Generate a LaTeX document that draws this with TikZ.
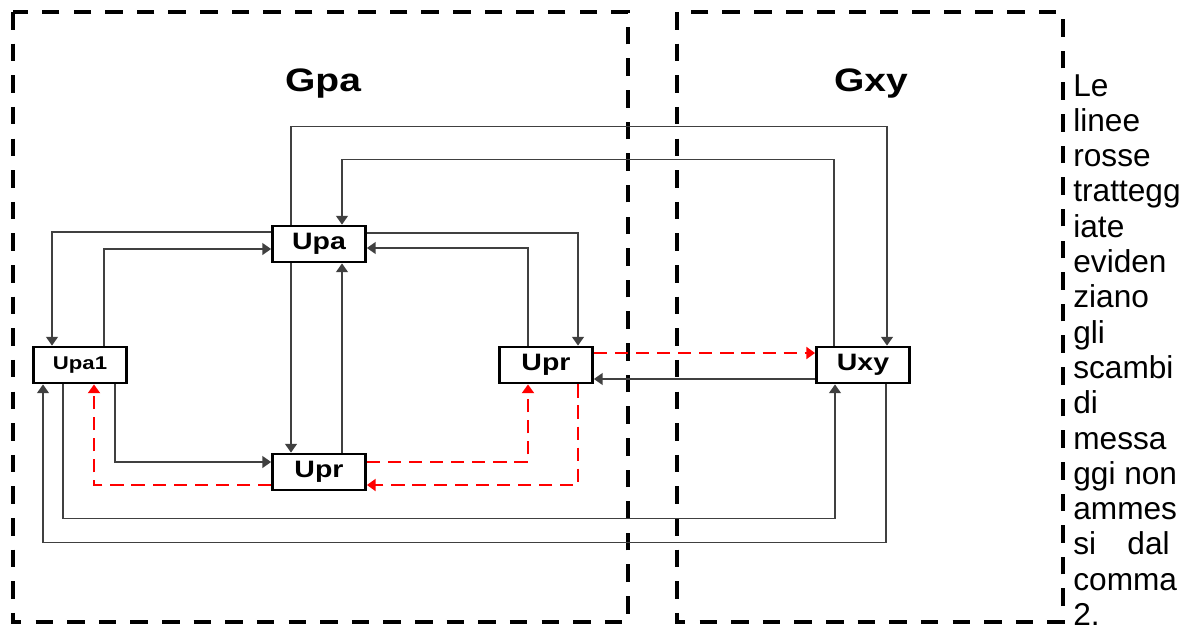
\documentclass[tikz,border=0pt]{standalone}
\usepackage{fontspec}
\setmainfont{Liberation Sans}
\newfontfamily\diagfont[FakeStretch=1.2]{Liberation Sans}
\usetikzlibrary{arrows.meta,calc}

\begin{document}
\begin{tikzpicture}[x=0.02cm,y=-0.02cm,>={Triangle[length=5pt,width=6.8pt]},
  unit/.style={draw,line width=1.6pt,fill=white,minimum width=1.86cm,minimum height=0.72cm,inner sep=0pt,font=\diagfont\bfseries\fontsize{13.5}{13.5}\selectfont},
  link/.style={->,line width=0.8pt,draw=black!75},
  banned/.style={->,line width=1.6pt,draw=red,dash pattern=on 7.5pt off 4.5pt},
  group/.style={draw,line width=2.8pt,dash pattern=on 10pt off 8pt},
  title/.style={font=\diagfont\bfseries\fontsize{18.5}{18.5}\selectfont},
  note/.style={font=\fontsize{18}{20.7}\selectfont,inner sep=0pt}]
  \useasboundingbox (0,0) rectangle (1194,632);
  % the two groups
  \draw[group] (13,12) rectangle (628,622);
  \draw[group] (677,12) rectangle (1063,622);
  \node[title,anchor=base] (gpa) at (323,91) {Gpa};
  \node[title,anchor=base] (gxy) at (871,91) {Gxy};
  % units
  \node[unit] (upa) at (319,244) {Upa};
  \node[unit,font=\diagfont\bfseries\fontsize{10.5}{10.5}\selectfont] (upa1) at (80,365) {Upa1};
  \node[unit] (uprR) at (546,365) {Upr};
  \node[unit] (uprB) at (319,472) {Upr};
  \node[unit] (uxy) at (863,365) {Uxy};
  % allowed exchanges
  \draw[link] ($(upa.west)+(0,-12)$) -| ($(upa1.north)+(-28,0)$);
  \draw[link] ($(upa1.north)+(24,0)$) |- ($(upa.west)+(0,5)$);
  \draw[link] ($(upa.south)+(-28,0)$) -- ($(uprB.north)+(-28,0)$);
  \draw[link] ($(uprB.north)+(23,0)$) -- ($(upa.south)+(23,0)$);
  \draw[link] ($(upa1.south)+(35,0)$) |- ($(uprB.west)+(0,-10)$);
  \draw[link] ($(upa.east)+(0,-11)$) -| ($(uprR.north)+(32,0)$);
  \draw[link] ($(uprR.north)+(-18,0)$) |- ($(upa.east)+(0,4)$);
  \draw[link] ($(uxy.west)+(0,14)$) -- ($(uprR.east)+(0,14)$);
  \draw[link] ($(upa.north)+(-28,0)$) -- ++(0,-98) -| ($(uxy.north)+(24,0)$);
  \draw[link] ($(uxy.north)+(-29,0)$) -- ++(0,-186) -| ($(upa.north)+(23,0)$);
  \draw[link] ($(upa1.south)+(-17,0)$) -- ++(0,134) -| ($(uxy.south)+(-28,0)$);
  \draw[link] ($(uxy.south)+(23,0)$) -- ++(0,158) -| ($(upa1.south)+(-37,0)$);
  % exchanges not allowed
  \draw[banned] ($(uprB.west)+(0,13)$) -| ($(upa1.south)+(14,0)$);
  \draw[banned] ($(uprR.south)+(32,0)$) |- ($(uprB.east)+(0,13)$);
  \draw[banned] ($(uprB.east)+(0,-10)$) -| ($(uprR.south)+(-18,0)$);
  \draw[banned] ($(uprR.east)+(0,-12)$) -- ($(uxy.west)+(0,-12)$);
  % side note
  \foreach \w [count=\i from 0] in {Le,linee,rosse,trattegg,iate,eviden,ziano,gli,scambi,di,messa,ggi non,ammes,si,comma,2.}
    \node[note,anchor=base west] (note\i) at (1073,{96+35.3*\i}) {\w};
  \node[note,anchor=base east] (dal) at (1170,{96+35.3*13}) {dal};
\end{tikzpicture}
\end{document}
